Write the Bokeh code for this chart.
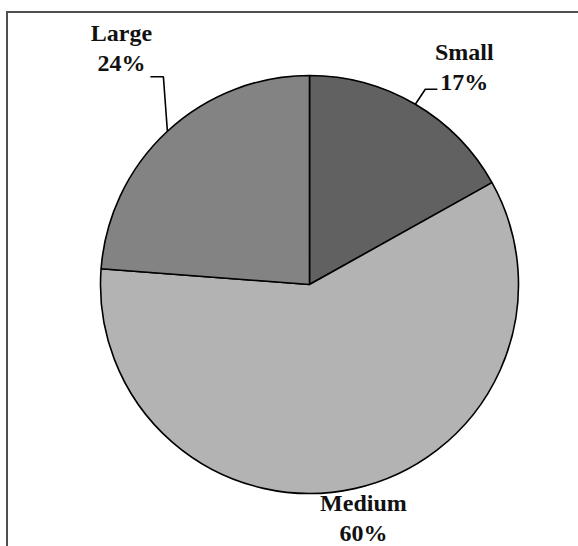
import math
from bokeh.plotting import figure
from bokeh.models import ColumnDataSource, Range1d
from bokeh.core.properties import value
from bokeh.embed import file_html
from bokeh.resources import INLINE

# ---- data ----
categories = ["Small", "Medium", "Large"]
shares = [16.9, 59.3, 23.8]
pct_labels = ["17%", "60%", "24%"]
colors = ["#616161", "#b3b3b3", "#838383"]

# ---- layout ----
R = 209
label_offsets = [(49, 37), (9, -29.5), (-46, 83)]      # label centre relative to slice's mid-point on rim
leader = [True, False, True]
leader_elbow = [(-39, -22, -27), None, (42, -28.5, 29)]  # relative to label centre: elbow dx, dy, end dx

p = figure(width=578, height=546, x_range=Range1d(-309, 269), y_range=Range1d(-262, 284),
           output_backend="svg", toolbar_location=None, min_border=0,
           x_axis_location=None, y_axis_location=None)
p.grid.visible = False
p.outline_line_color = None
p.background_fill_color = "white"
p.border_fill_color = "white"

total = sum(shares)
starts, ends, mids = [], [], []
cum = 0.0
for s in shares:
    a0 = math.pi / 2 - cum / total * 2 * math.pi
    cum += s
    a1 = math.pi / 2 - cum / total * 2 * math.pi
    starts.append(a0)
    ends.append(a1)
    mids.append((a0 + a1) / 2)

# chart-area frame (only top and left edges visible in the reference)
p.line(x=[-302.5, -302.5, 280], y=[-270, 272.5, 272.5], line_color="#505050", line_width=2,
       line_join="miter")

src = ColumnDataSource(dict(x=[0] * 3, y=[0] * 3, start=starts, end=ends, color=colors, cat=categories))
p.wedge(x="x", y="y", radius=R, start_angle="start", end_angle="end", direction="clock",
        fill_color="color", line_color="black", line_width=1.6, source=src)

lx, ly, ltxt = [], [], []
xs, ys = [], []
for i, m in enumerate(mids):
    rx, ry = R * math.cos(m), R * math.sin(m)
    cx, cy = rx + label_offsets[i][0], ry + label_offsets[i][1]
    lx.append(cx)
    ly.append(cy)
    ltxt.append(categories[i] + "\n" + pct_labels[i])
    if leader[i]:
        edx, edy, endx = leader_elbow[i]
        xs.append([rx, cx + edx, cx + endx])
        ys.append([ry, cy + edy, cy + edy])

p.multi_line(xs=xs, ys=ys, line_color="black", line_width=1.6)
p.text(x=lx, y=ly, text=ltxt, text_align="center", text_baseline="middle",
       text_font=value("Liberation Serif"), text_font_style="bold", text_font_size="24px",
       text_line_height=1.15, text_color="#111111")

open("out.html", "w").write(file_html(p, INLINE))
